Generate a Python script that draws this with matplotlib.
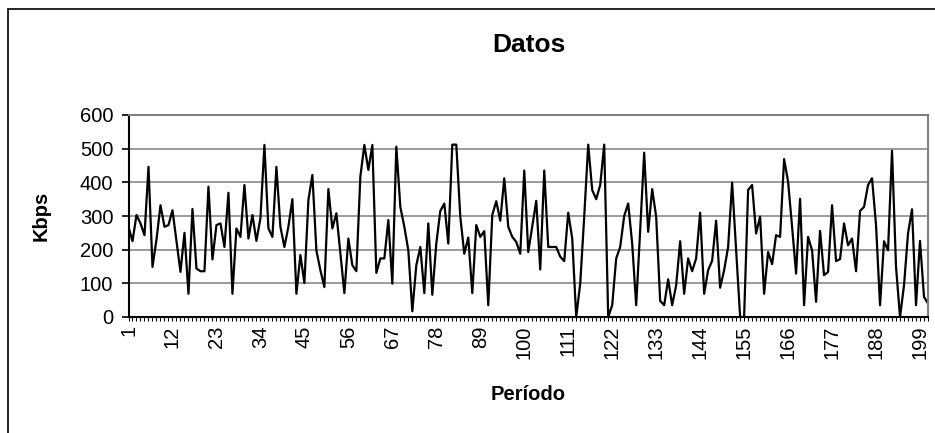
import numpy as np
import matplotlib
matplotlib.use("Agg")
import matplotlib.pyplot as plt
from matplotlib.patches import Rectangle

# Kbps per period
kbps = [268, 225, 303, 278, 243, 446, 149, 230, 332, 268,
        273, 317, 225, 134, 250, 69, 321, 144, 136, 136,
        387, 171, 273, 278, 208, 369, 69, 263, 238, 392,
        233, 303, 226, 293, 511, 263, 238, 446, 268, 208,
        268, 350, 69, 184, 101, 347, 422, 198, 139, 89,
        380, 263, 308, 188, 71, 233, 154, 136, 417, 511,
        437, 511, 131, 174, 174, 288, 99, 506, 327, 268,
        198, 17, 154, 208, 71, 278, 66, 218, 315, 337,
        218, 512, 512, 298, 188, 236, 71, 273, 238, 255,
        35, 303, 344, 286, 412, 268, 238, 223, 188, 435,
        193, 268, 345, 141, 435, 208, 208, 208, 179, 166,
        310, 233, 0, 99, 298, 512, 377, 350, 392, 512,
        0, 35, 174, 208, 300, 337, 218, 35, 258, 488,
        253, 380, 298, 48, 35, 112, 35, 94, 225, 69,
        174, 136, 174, 310, 69, 139, 167, 286, 87, 139,
        208, 399, 198, 0, 0, 377, 392, 248, 298, 69,
        193, 157, 243, 238, 469, 402, 268, 129, 351, 35,
        238, 198, 45, 256, 124, 134, 332, 166, 172, 278,
        213, 233, 136, 315, 327, 392, 412, 273, 35, 225,
        198, 494, 149, 0, 94, 248, 320, 35, 226, 60,
        40]
periodo = np.arange(1, len(kbps) + 1)
y_ticks = [0, 100, 200, 300, 400, 500, 600]
label_every = 11

plt.rcParams['font.family'] = ['Liberation Sans', 'DejaVu Sans']

fig = plt.figure(figsize=(9.35, 4.33), dpi=100)
ax = fig.add_axes([128.5/935, 1-317/433, (928-128.5)/935, (317-115)/433])

ax.plot(periodo, kbps, color='black', linewidth=1.6)

ax.set_xlim(1, len(kbps))
ax.set_ylim(0, 600)
ax.set_yticks(y_ticks)
ax.yaxis.grid(True, color='#808080', linewidth=1.1)
ax.set_axisbelow(True)

xlabels = [str(p) if (p - 1) % label_every == 0 else '' for p in periodo]
ax.set_xticks(periodo)
ax.set_xticklabels(xlabels, rotation=90, fontsize=14.5)
ax.tick_params(axis='x', length=3, width=0.8, pad=3)
ax.tick_params(axis='y', length=5, width=1.2, pad=6, labelsize=14.5)

for s in ['left', 'bottom']:
    ax.spines[s].set_color('black')
    ax.spines[s].set_linewidth(1.5)
for s in ['top', 'right']:
    ax.spines[s].set_color('#808080')
    ax.spines[s].set_linewidth(1.5)

ax.set_ylabel('Kbps', fontsize=14.5, fontweight='bold')
ax.yaxis.set_label_coords(-0.098, 0.5)
ax.set_xlabel('Período', fontsize=14.5, fontweight='bold')
ax.xaxis.set_label_coords(0.5, -0.386)
ax.xaxis.label.set_va('center')

fig.text(529/935, 1-45/433, 'Datos', ha='center', va='center',
         fontsize=19, fontweight='bold')

# outer chart frame (cut off at right and bottom)
fig.patches.append(Rectangle((8/935, -0.2), 1.2, 1.2 - 9/433,
                             transform=fig.transFigure, fill=False,
                             edgecolor='black', linewidth=1.2))

plt.savefig('out.png', dpi=100)
